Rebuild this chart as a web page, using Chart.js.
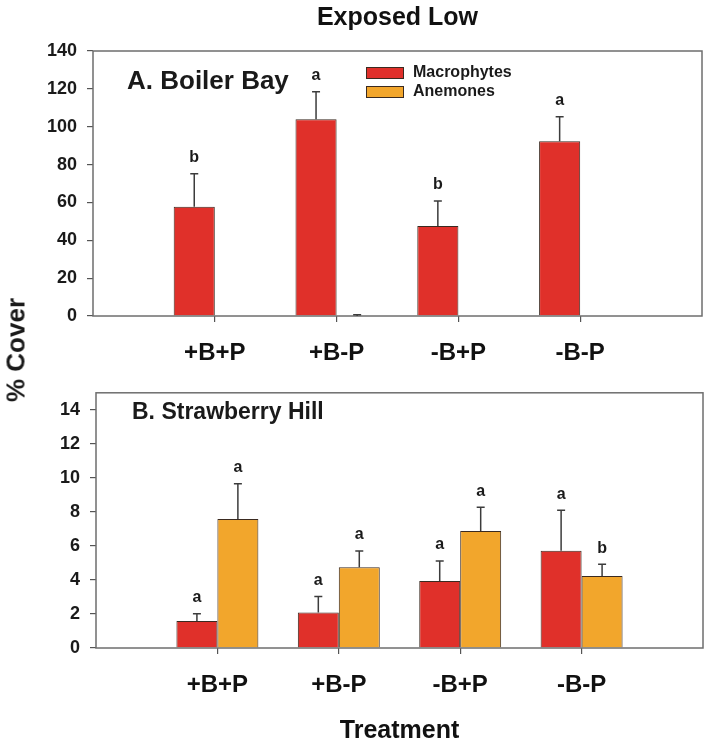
<!DOCTYPE html>
<html>
<head>
<meta charset="utf-8">
<script src="https://cdn.jsdelivr.net/npm/chart.js@4.4.0/dist/chart.umd.min.js"></script>
<style>
  body { margin: 0; background: #fff; width: 709px; height: 744px; position: relative; overflow: hidden; }
  .panel { position: absolute; left: 0; width: 709px; height: 372px; }
  #panelA { top: 0; }
  #panelB { top: 372px; }
  #ylab {
    position: absolute; left: 16px; top: 350px;
    transform: translate(-50%, -50%) rotate(-90deg);
    font: bold 26px 'Liberation Sans', Arial, sans-serif; color: #1a1a1a; white-space: nowrap;
  }
</style>
</head>
<body>
<div class="panel" id="panelA"><canvas id="chartA" width="709" height="372"></canvas></div>
<div class="panel" id="panelB"><canvas id="chartB" width="709" height="372"></canvas></div>
<div id="ylab">% Cover</div>
<script>
// data
const treatments = ['+B+P', '+B-P', '-B+P', '-B-P'];
const seriesNames = ['Macrophytes', 'Anemones'];

// A. Boiler Bay
const boilerMacro = [57.7, 104, 47.5, 92.3];
const boilerMacroErr = [17.4, 14.5, 13.3, 12.9];
const boilerMacroLetters = ['b', 'a', 'b', 'a'];
const boilerAnem = [0, 0, 0, 0];
const boilerAnemErr = [0, 0.6, 0, 0];
const boilerAnemLetters = ['', '', '', ''];
const boilerTicks = [0, 20, 40, 60, 80, 100, 120, 140];

// B. Strawberry Hill
const strawMacro = [1.58, 2.09, 3.94, 5.72];
const strawMacroErr = [0.44, 0.93, 1.17, 2.37];
const strawMacroLetters = ['a', 'a', 'a', 'a'];
const strawAnem = [7.58, 4.75, 6.87, 4.23];
const strawAnemErr = [2.08, 0.95, 1.41, 0.69];
const strawAnemLetters = ['a', 'a', 'a', 'b'];
const strawTicks = [0, 2, 4, 6, 8, 10, 12, 14];

const RED = '#e0302a';
const ORANGE = '#f2a62c';
const EDGE = '#3a2a20';
const FONT = "'Liberation Sans', Arial, sans-serif";

const toPoints = vals => vals.map((v, i) => ({ x: i + 1, y: v }));

// error bars, letters, frame, panel label and legend
const decoPlugin = {
    id: 'deco',
    afterDatasetsDraw(chart, args, opts) {
        const ctx = chart.ctx;
        const yScale = chart.scales.y;
        const area = chart.chartArea;

        // frame around plot
        ctx.save();
        ctx.strokeStyle = '#6e6e6e';
        ctx.lineWidth = 1.5;
        ctx.strokeRect(area.left, area.top, area.right - area.left, area.bottom - area.top);
        ctx.restore();

        chart.data.datasets.forEach((ds, i) => {
            const meta = chart.getDatasetMeta(i);
            meta.data.forEach((bar, j) => {
                const val = ds.data[j].y;
                const err = ds.errors[j];
                const yTop = yScale.getPixelForValue(val + err);
                ctx.save();
                if (err > 0) {
                    ctx.strokeStyle = '#3c3c3c';
                    ctx.lineWidth = 1.5;
                    ctx.beginPath();
                    ctx.moveTo(bar.x, bar.y);
                    ctx.lineTo(bar.x, yTop);
                    ctx.moveTo(bar.x - 4, yTop);
                    ctx.lineTo(bar.x + 4, yTop);
                    ctx.stroke();
                }
                if (ds.letters[j]) {
                    ctx.fillStyle = '#1a1a1a';
                    ctx.font = 'bold 16px ' + FONT;
                    ctx.textAlign = 'center';
                    ctx.textBaseline = 'middle';
                    ctx.fillText(ds.letters[j], bar.x, yTop - 16);
                }
                ctx.restore();
            });
        });

        ctx.save();
        ctx.fillStyle = '#1a1a1a';
        ctx.font = 'bold ' + opts.labelSize + 'px ' + FONT;
        ctx.textAlign = 'left';
        ctx.textBaseline = 'alphabetic';
        ctx.fillText(opts.label, opts.labelX, opts.labelY);
        ctx.restore();

        if (opts.legend) {
            chart.data.datasets.forEach((ds, i) => {
                const y = 67 + i * 19;
                ctx.save();
                ctx.fillStyle = ds.backgroundColor;
                ctx.fillRect(366, y, 38, 11);
                ctx.strokeStyle = EDGE;
                ctx.lineWidth = 1;
                ctx.strokeRect(366.5, y + 0.5, 37, 11);
                ctx.fillStyle = '#1a1a1a';
                ctx.font = 'bold 16px ' + FONT;
                ctx.textBaseline = 'middle';
                ctx.fillText(ds.label, 413, y + 6);
                ctx.restore();
            });
        }
    }
};

function makeChart(canvasId, macro, macroErr, macroLetters, anem, anemErr, anemLetters, yTicks, yMax, cfg) {
    const ctx = document.getElementById(canvasId).getContext('2d');
    return new Chart(ctx, {
        type: 'bar',
        data: {
            datasets: [{
                label: seriesNames[0],
                data: toPoints(macro),
                errors: macroErr,
                letters: macroLetters,
                backgroundColor: RED,
                borderColor: EDGE,
                borderWidth: 1
            }, {
                label: seriesNames[1],
                data: toPoints(anem),
                errors: anemErr,
                letters: anemLetters,
                backgroundColor: ORANGE,
                borderColor: EDGE,
                borderWidth: 1
            }]
        },
        options: {
            responsive: false,
            animation: false,
            categoryPercentage: 0.675,
            barPercentage: 1,
            layout: { padding: cfg.padding },
            scales: {
                x: {
                    type: 'linear',
                    min: 0,
                    max: 5,
                    offset: false,
                    afterBuildTicks: axis => { axis.ticks = treatments.map((t, i) => ({ value: i + 1 })); },
                    afterFit: s => { s.height = cfg.xHeight; },
                    border: { display: false },
                    grid: { offset: false, drawOnChartArea: false, tickLength: 6, color: '#555', lineWidth: 1.2 },
                    ticks: {
                        padding: cfg.xTickPad,
                        color: '#111',
                        font: { family: FONT, size: 24, weight: 'bold' },
                        callback: v => treatments[v - 1]
                    },
                    title: {
                        display: !!cfg.xTitle,
                        text: cfg.xTitle || '',
                        color: '#111',
                        font: { family: FONT, size: 25, weight: 'bold' },
                        padding: { top: 0, bottom: -2 }
                    }
                },
                y: {
                    min: 0,
                    max: yMax,
                    afterBuildTicks: axis => { axis.ticks = yTicks.map(v => ({ value: v })); },
                    afterFit: s => { s.width = cfg.yWidth; },
                    border: { display: false },
                    grid: { drawOnChartArea: false, tickLength: 6, color: '#555', lineWidth: 1.2 },
                    ticks: {
                        padding: 10,
                        color: '#1a1a1a',
                        font: { family: FONT, size: 18, weight: 'bold' }
                    }
                }
            },
            plugins: {
                legend: { display: false },
                tooltip: { enabled: false },
                title: {
                    display: !!cfg.title,
                    text: cfg.title || '',
                    fullSize: false,
                    color: '#111',
                    font: { family: FONT, size: 25, weight: 'bold' },
                    padding: { top: 3, bottom: 18 }
                },
                deco: {
                    label: cfg.label,
                    labelSize: cfg.labelSize,
                    labelX: cfg.labelX,
                    labelY: cfg.labelY,
                    legend: cfg.legend
                }
            }
        },
        plugins: [decoPlugin]
    });
}

makeChart('chartA', boilerMacro, boilerMacroErr, boilerMacroLetters,
    boilerAnem, boilerAnemErr, boilerAnemLetters, boilerTicks, 140, {
        padding: { left: 0, right: 7, top: 0, bottom: 0 },
        xHeight: 56, xTickPad: 17, yWidth: 93,
        title: 'Exposed Low',
        label: 'A. Boiler Bay', labelSize: 26, labelX: 127, labelY: 89,
        legend: true
    });

makeChart('chartB', strawMacro, strawMacroErr, strawMacroLetters,
    strawAnem, strawAnemErr, strawAnemLetters, strawTicks, 15, {
        padding: { left: 0, right: 6, top: 11, bottom: 0 },
        xHeight: 96, xTickPad: 17, yWidth: 96,
        xTitle: 'Treatment',
        label: 'B. Strawberry Hill', labelSize: 23, labelX: 132, labelY: 47,
        legend: false
    });
</script>
</body>
</html>
